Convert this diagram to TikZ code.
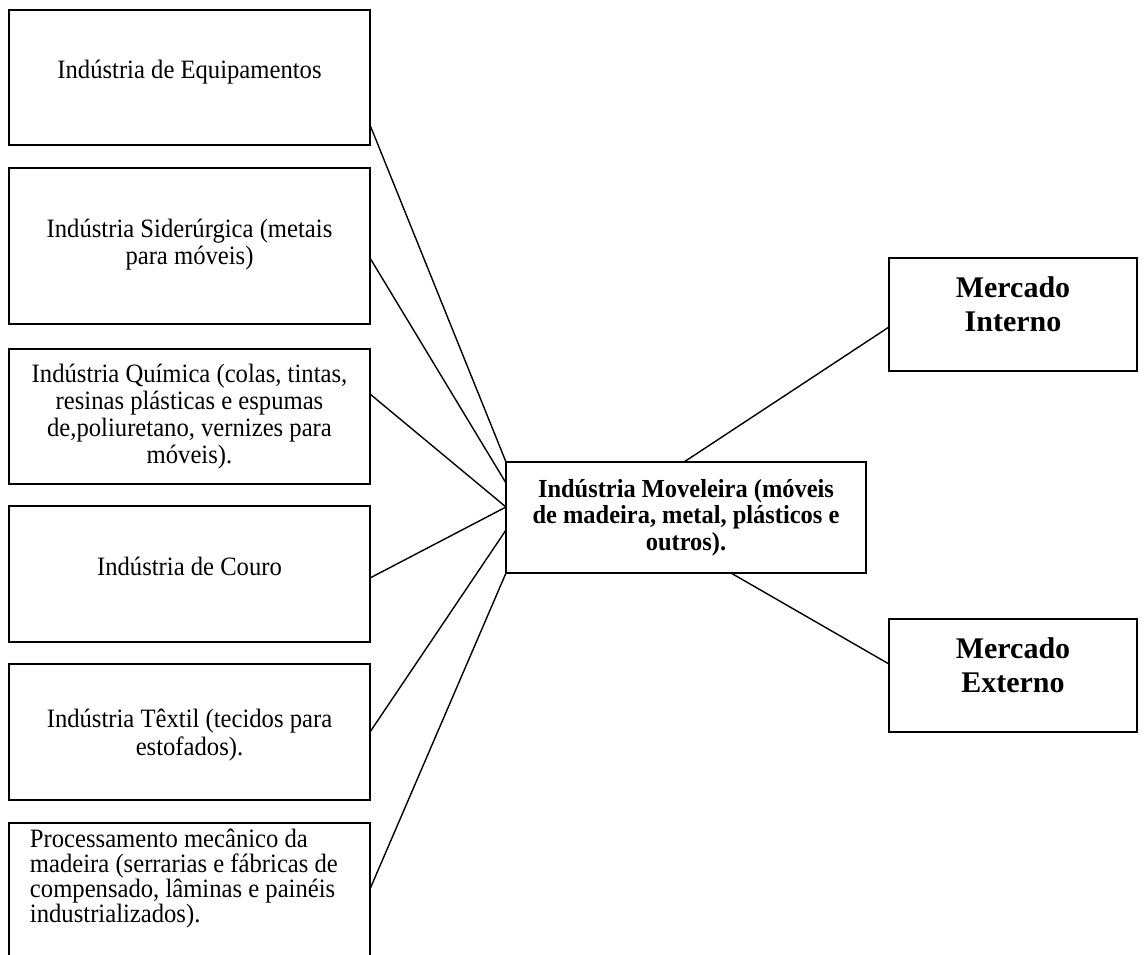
\documentclass[tikz,border=0pt]{standalone}
\usepackage{fontspec}
\setmainfont{Liberation Serif}
\newfontfamily\tallfont{Liberation Serif}[FakeStretch=0.93]
\newfontfamily\talbold{Liberation Serif Bold}[FakeStretch=0.94]
\usetikzlibrary{calc}
\newcommand{\boxtext}[6]{\parbox[c][#2][t]{#1}{\fontsize{#3}{#4}\selectfont\centering\rule{0pt}{#5}#6\par}}
\newcommand{\boxtextleft}[6]{\parbox[c][#2][t]{#1}{\fontsize{#3}{#4}\selectfont\raggedright\leftskip=21pt\rule{0pt}{#5}#6\par}}
\tikzset{
  box/.style={draw, line width=1.7pt, inner sep=0pt, outer sep=0pt, anchor=north west},
  link/.style={line width=1.4pt},
}
\begin{document}
\begin{tikzpicture}[x=1pt,y=-1pt]
\clip (0,0) rectangle (1144,954);
\fill[white] (0,0) rectangle (1144,954);
% left boxes
\node[box] (b1) at (9,10) {\boxtext{361pt}{135pt}{26.5pt}{27.5pt}{68pt}{\tallfont Indústria de Equipamentos}};
\node[box] (b2) at (9,168) {\boxtext{361pt}{156pt}{26.5pt}{27.5pt}{69pt}{\tallfont Indústria Siderúrgica (metais\\para móveis)}};
\node[box] (b3) at (9,349) {\boxtext{361pt}{135pt}{26.5pt}{27.3pt}{33pt}{\tallfont Indústria Química (colas, tintas,\\resinas plásticas e espumas\\de,poliuretano, vernizes para\\móveis).}};
\node[box] (b4) at (9,506) {\boxtext{361pt}{136pt}{26.5pt}{27.5pt}{69pt}{\tallfont Indústria de Couro}};
\node[box] (b5) at (9,664) {\boxtext{361pt}{136pt}{26.5pt}{28pt}{63pt}{\tallfont Indústria Têxtil (tecidos para\\estofados).}};
\node[box] (b6) at (9,823) {\boxtextleft{361pt}{170pt}{26.5pt}{25pt}{24pt}{\tallfont Processamento mecânico da\\madeira (serrarias e fábricas de\\compensado, lâminas e painéis\\industrializados).}};
% centre box
\node[box] (c) at (506,462) {\boxtext{360pt}{111pt}{26pt}{26.7pt}{35pt}{\talbold Indústria Moveleira (móveis\\de madeira, metal, plásticos e\\outros).}};
% market boxes
\node[box] (mi) at (889,258) {\boxtext{248pt}{113pt}{30pt}{34.5pt}{39pt}{\bfseries Mercado\\Interno}};
\node[box] (me) at (889,619) {\boxtext{248pt}{113pt}{30pt}{34.5pt}{39pt}{\bfseries Mercado\\Externo}};
% connectors
\draw[link] ($(b1.north east)+(0,115)$) -- (c.north west);
\draw[link] ($(b2.north east)+(0,90)$) -- ($(c.north west)+(0,21)$);
\draw[link] ($(b3.north east)+(0,45)$) -- ($(c.north west)+(0,45)$);
\draw[link] ($(b4.north east)+(0,72)$) -- ($(c.north west)+(0,45)$);
\draw[link] ($(b5.north east)+(0,68)$) -- ($(c.north west)+(0,68)$);
\draw[link] ($(b6.north east)+(0,66)$) -- (c.south west);
\draw[link] ($(c.north west)+(178,0)$) -- ($(mi.north west)+(0,69)$);
\draw[link] ($(c.south west)+(225,0)$) -- ($(me.north west)+(0,45)$);
\end{tikzpicture}
\end{document}
